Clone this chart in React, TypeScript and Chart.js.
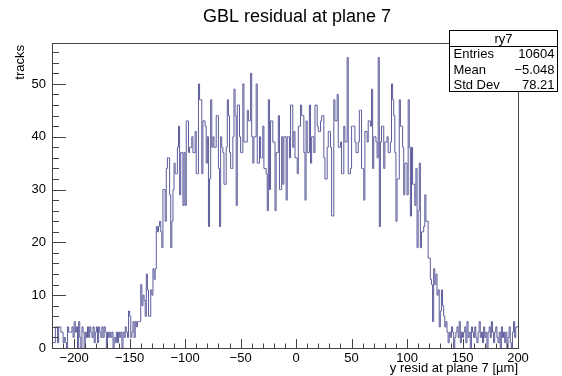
import React, { useEffect, useRef } from "react";
import { Chart, registerables } from "chart.js";

Chart.register(...registerables);

// Histogram: 1 µm bins, low edge of first bin = -220
const binStart = -220;
const binWidth = 1;
const counts: number[] = [
  // -220 .. -151
  6, 1, 1, 1, 4, 4, 1, 4, 4, 3,
  3, 1, 2, 1, 0, 4, 3, 3, 3, 4,
  2, 5, 3, 4, 0, 5, 2, 0, 4, 3,
  0, 3, 2, 4, 2, 4, 3, 2, 4, 1,
  3, 4, 1, 4, 3, 2, 4, 2, 4, 3,
  0, 3, 2, 3, 2, 3, 0, 2, 1, 3,
  1, 3, 2, 3, 0, 3, 2, 4, 3, 2,
  // -150 .. -101
  7, 6, 2, 3, 5, 2, 5, 4, 5, 5,
  5, 12, 8, 10, 9, 6, 14, 11, 6, 6,
  11, 10, 15, 13, 15, 23, 22, 23, 24, 22,
  19, 30, 30, 24, 34, 36, 36, 29, 19, 24,
  30, 35, 33, 33, 38, 42, 29, 37, 37, 27,
  // -100 .. -51
  37, 27, 43, 43, 37, 38, 38, 40, 37, 37,
  41, 33, 33, 50, 47, 47, 33, 43, 43, 42,
  35, 40, 23, 32, 47, 38, 40, 38, 38, 44,
  44, 34, 23, 40, 38, 37, 31, 31, 38, 47,
  44, 37, 34, 34, 40, 49, 44, 27, 46, 46,
  // -50 .. -1
  40, 37, 37, 50, 39, 39, 39, 45, 43, 43,
  52, 40, 35, 40, 40, 50, 35, 35, 40, 36,
  36, 42, 34, 34, 33, 26, 47, 30, 43, 43,
  39, 39, 26, 37, 37, 44, 30, 30, 40, 31,
  40, 40, 28, 40, 40, 36, 46, 46, 38, 41,
  // 0 .. 49
  36, 36, 33, 42, 42, 46, 44, 44, 37, 28,
  43, 37, 37, 46, 35, 40, 40, 37, 46, 46,
  42, 41, 41, 43, 44, 44, 36, 32, 32, 38,
  41, 41, 38, 25, 25, 47, 43, 43, 48, 38,
  38, 39, 33, 33, 42, 39, 39, 55, 33, 33,
  // 50 .. 99
  34, 42, 42, 42, 39, 37, 37, 39, 45, 45,
  34, 34, 28, 41, 41, 39, 43, 43, 42, 49,
  34, 40, 40, 39, 36, 55, 23, 39, 42, 42,
  34, 39, 39, 40, 37, 37, 39, 50, 47, 44,
  37, 24, 32, 32, 47, 42, 42, 38, 29, 35,
  // 100 .. 149
  35, 29, 47, 38, 25, 38, 31, 31, 27, 34,
  19, 26, 35, 19, 22, 22, 23, 29, 24, 24,
  17, 17, 13, 12, 5, 15, 12, 14, 10, 11,
  4, 7, 11, 8, 6, 4, 5, 3, 1, 3,
  2, 4, 3, 0, 2, 3, 4, 2, 5, 1,
  // 150 .. 199
  3, 2, 3, 4, 1, 5, 2, 3, 0, 4,
  3, 2, 4, 2, 1, 3, 5, 2, 3, 1,
  4, 2, 3, 0, 3, 4, 2, 5, 3, 1,
  3, 4, 2, 1, 3, 0, 4, 2, 3, 1,
  3, 0, 2, 4, 1, 0, 3, 5, 2, 4,
];

const xMin = -220;
const xMax = 200;
const yMax = 57.75;
const xMajorTicks = [-200, -150, -100, -50, 0, 50, 100, 150, 200];
const xMinorStep = 10;
const yMajorTicks = [0, 10, 20, 30, 40, 50];
const yMinorStep = 2;

const titleText = "GBL residual at plane 7";
const xTitle = "y resid at plane 7 [\u00b5m]";
const yTitle = "tracks";
const statsName = "ry7";
const statsLabels = ["Entries", "Mean", "Std Dev"];
const statsValues = ["10604", "\u22125.048", "78.21"];

const FONT = "'Liberation Sans', Arial, Helvetica, sans-serif";
const LINE = "#5c5c9c";

const fmt = (v: number) => (v < 0 ? "\u2212" + Math.abs(v) : String(v));

export default function App() {
  const ref = useRef<HTMLCanvasElement | null>(null);

  useEffect(() => {
    const canvas = ref.current;
    if (!canvas) return;

    const points = counts.map((c, i) => ({ x: binStart + i * binWidth, y: c }));
    points.push({ x: binStart + counts.length * binWidth, y: counts[counts.length - 1] });

    const rootPlugin = {
      id: "rootDecor",
      afterDraw(chart: any) {
        const ctx = chart.ctx as CanvasRenderingContext2D;
        const { left, right, top, bottom } = chart.chartArea;
        const xs = chart.scales.x;
        const ys = chart.scales.y;
        ctx.save();
        // frame
        ctx.strokeStyle = "#444";
        ctx.lineWidth = 1;
        ctx.strokeRect(Math.round(left) + 0.5, Math.round(top) + 0.5, Math.round(right - left), Math.round(bottom - top));
        // x ticks
        ctx.beginPath();
        for (let v = xMin; v <= xMax; v += xMinorStep) {
          const px = Math.round(xs.getPixelForValue(v)) + 0.5;
          const major = xMajorTicks.includes(v);
          const len = major ? 9 : 4.5;
          ctx.moveTo(px, bottom);
          ctx.lineTo(px, bottom - len);
        }
        // y ticks
        for (let v = 0; v <= yMax; v += yMinorStep) {
          const py = Math.round(ys.getPixelForValue(v)) + 0.5;
          const major = yMajorTicks.includes(v);
          const len = major ? 14 : 7;
          ctx.moveTo(left, py);
          ctx.lineTo(left + len, py);
        }
        ctx.stroke();

        // title
        ctx.fillStyle = "#000";
        ctx.font = `18px ${FONT}`;
        ctx.textAlign = "center";
        ctx.textBaseline = "middle";
        ctx.fillText(titleText, 297, 17);

        // x title
        ctx.font = `13px ${FONT}`;
        ctx.textAlign = "right";
        ctx.fillText(xTitle, right, 368);

        // y title
        ctx.save();
        ctx.translate(20, top);
        ctx.rotate(-Math.PI / 2);
        ctx.textAlign = "right";
        ctx.textBaseline = "middle";
        ctx.fillText(yTitle, -2, 0);
        ctx.restore();

        // stats box
        const bx = 449.5, by = 30.5, bw = 108, bh = 61;
        ctx.fillStyle = "#fff";
        ctx.fillRect(bx, by, bw, bh);
        ctx.strokeStyle = "#000";
        ctx.strokeRect(bx, by, bw, bh);
        ctx.beginPath();
        ctx.moveTo(bx, by + 16);
        ctx.lineTo(bx + bw, by + 16);
        ctx.stroke();
        ctx.fillStyle = "#000";
        ctx.font = `13px ${FONT}`;
        ctx.textAlign = "center";
        ctx.fillText(statsName, bx + bw / 2, by + 8.5);
        statsLabels.forEach((lab, i) => {
          const yy = by + 24 + i * 15.5;
          ctx.textAlign = "left";
          ctx.fillText(lab, bx + 4, yy);
          ctx.textAlign = "right";
          ctx.fillText(statsValues[i], bx + bw - 3, yy);
        });
        ctx.restore();
      },
    };

    const chart = new Chart(canvas, {
      type: "line",
      data: {
        datasets: [
          {
            data: points,
            stepped: "after",
            borderColor: LINE,
            borderWidth: 1,
            pointRadius: 0,
            fill: false,
          } as any,
        ],
      },
      options: {
        responsive: false,
        animation: false,
        layout: { padding: { left: 0, top: 43, right: 44, bottom: 0 } },
        plugins: { legend: { display: false }, title: { display: false }, tooltip: { enabled: false } },
        scales: {
          x: {
            type: "linear",
            min: xMin,
            max: xMax,
            grid: { display: false, drawTicks: false },
            border: { display: false },
            afterBuildTicks: (s: any) => {
              s.ticks = xMajorTicks.map((v) => ({ value: v }));
            },
            afterFit: (s: any) => {
              s.height = 28;
            },
            ticks: {
              autoSkip: false,
              maxRotation: 0,
              padding: 3,
              color: "#000",
              font: { family: FONT, size: 13 },
              callback: (v: any) => fmt(Number(v)),
            },
          },
          y: {
            type: "linear",
            min: 0,
            max: yMax,
            grid: { display: false, drawTicks: false },
            border: { display: false },
            afterBuildTicks: (s: any) => {
              s.ticks = yMajorTicks.map((v) => ({ value: v }));
            },
            afterFit: (s: any) => {
              s.width = 52;
            },
            ticks: {
              autoSkip: false,
              padding: 6,
              color: "#000",
              font: { family: FONT, size: 13 },
              callback: (v: any) => fmt(Number(v)),
            },
          },
        },
      },
      plugins: [rootPlugin],
    } as any);

    return () => chart.destroy();
  }, []);

  return (
    <div style={{ position: "absolute", left: 0, top: 0, width: 562, height: 376, background: "#fff" }}>
      <canvas ref={ref} width={562} height={376} style={{ width: 562, height: 376, display: "block" }} />
    </div>
  );
}
